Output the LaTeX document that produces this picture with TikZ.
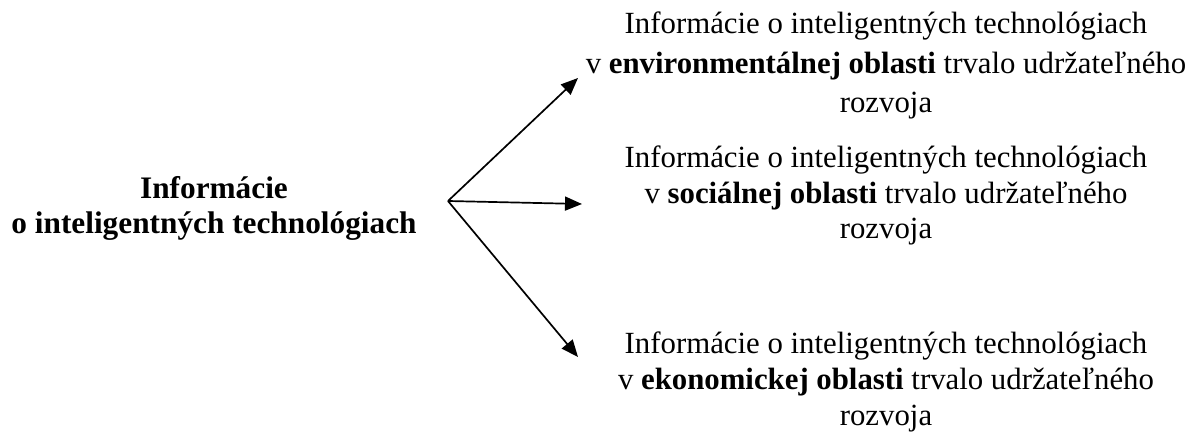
\documentclass[tikz,border=0pt]{standalone}
\usepackage{fontspec}
\setmainfont{Liberation Serif}
\usetikzlibrary{arrows.meta}
\begin{document}
\begin{tikzpicture}[x=1pt,y=-1pt,
  txt/.style={inner sep=0pt,align=center,anchor=north},
  link/.style={line width=1.7pt,-{Triangle[length=17pt,width=14pt]}}]
\useasboundingbox (0,0) rectangle (1190,435);
% source topic on the left
\node[txt,font=\fontsize{31.3}{35}\selectfont\bfseries] (src) at (214,176)
  {Informácie\\o inteligentných technológiach};
% the three areas of sustainable development
\node[txt,font=\fontsize{30.8}{39.5}\selectfont] (env) at (886,12)
  {Informácie o inteligentných technológiach\\v \textbf{environmentálnej oblasti} trvalo udržateľného\\rozvoja};
\node[txt,font=\fontsize{30.8}{35.5}\selectfont] (soc) at (886,146)
  {Informácie o inteligentných technológiach\\v \textbf{sociálnej oblasti} trvalo udržateľného\\rozvoja};
\node[txt,font=\fontsize{30.8}{36}\selectfont] (eko) at (886,332)
  {Informácie o inteligentných technológiach\\v \textbf{ekonomickej oblasti} trvalo udržateľného\\rozvoja};
% branching point and arrow tips
\coordinate (hub) at (448,201);
\coordinate (envtip) at (578,78);
\coordinate (soctip) at (582,204);
\coordinate (ekotip) at (578,357);
\draw[link] (hub) -- (envtip);
\draw[link] (hub) -- (soctip);
\draw[link] (hub) -- (ekotip);
\end{tikzpicture}
\end{document}
